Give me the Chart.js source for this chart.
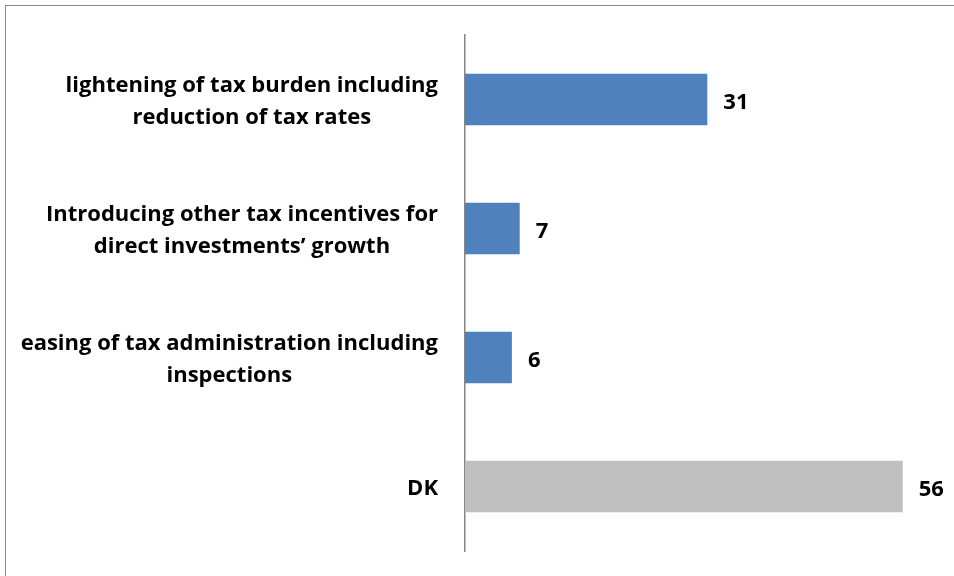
<!DOCTYPE html>
<html>
<head>
<meta charset="utf-8">
<script src="https://cdn.jsdelivr.net/npm/chart.js@4/dist/chart.umd.min.js"></script>
<style>
  html, body { margin: 0; padding: 0; background: #fff; overflow: hidden; }
  #frame {
    position: absolute; left: 5px; top: 5px; width: 970px; height: 600px;
    border: 1px solid #898989; box-sizing: border-box;
  }
  #wrap { position: absolute; left: 0; top: 0; width: 954px; height: 576px; }
</style>
</head>
<body>
<div id="frame"></div>
<div id="wrap"><canvas id="myChart"></canvas></div>
<script>
const categories = [
    ['lightening of tax burden including', 'reduction of tax rates'],
    ['Introducing other tax incentives for', 'direct investments\u2019 growth'],
    ['easing of tax administration including', 'inspections'],
    ['DK']
];
const shares = [31, 7, 6, 56];
const barColors = ['#4F81BD', '#4F81BD', '#4F81BD', '#BFBFBF'];

const labelFont = 'bold 22px "Open Sans"';

// category text blocks on the left (right-aligned block, lines centred) and values after each bar
const sideLabels = {
    id: 'sideLabels',
    afterDraw(chart) {
        const ctx = chart.ctx;
        const yScale = chart.scales.y;
        const meta = chart.getDatasetMeta(0);
        ctx.save();
        ctx.font = labelFont;
        ctx.fillStyle = '#000';
        ctx.textBaseline = 'middle';
        categories.forEach(function (lines, i) {
            const cy = yScale.getPixelForValue(i) + 2;
            const blockW = Math.max.apply(null, lines.map(l => ctx.measureText(l).width));
            const cx = yScale.right - 27 - blockW / 2;
            ctx.textAlign = 'center';
            lines.forEach(function (line, j) {
                ctx.fillText(line, cx, cy + (j - (lines.length - 1) / 2) * 32);
            });
            const bar = meta.data[i];
            ctx.textAlign = 'left';
            ctx.fillText(String(shares[i]), bar.x + 16, bar.y + 3);
        });
        ctx.restore();
    }
};

var data = {
    labels: categories,
    datasets: [{
        label: 'Share',
        data: shares,
        backgroundColor: barColors,
        barPercentage: 0.4,
        categoryPercentage: 1
    }]
};

var options = {
    indexAxis: 'y',
    responsive: true,
    maintainAspectRatio: false,
    animation: false,
    layout: {
        padding: { left: 465, top: 35, bottom: 25, right: 20 }
    },
    plugins: {
        legend: { display: false },
        tooltip: { enabled: false }
    },
    scales: {
        x: {
            display: false,
            min: 0,
            max: 60
        },
        y: {
            ticks: { display: false },
            grid: { display: false },
            border: { display: true, color: '#868686', width: 1.5 },
            afterFit: function (scale) { scale.width = 0; }
        }
    }
};

var ctx = document.getElementById('myChart').getContext('2d');
var myChart = new Chart(ctx, {
    type: 'bar',
    data: data,
    options: options,
    plugins: [sideLabels]
});
</script>
</body>
</html>
